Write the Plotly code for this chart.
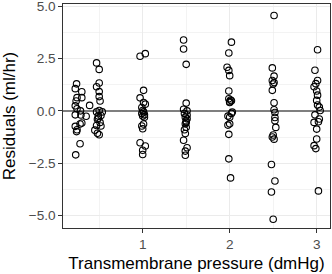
import plotly.graph_objects as go

# Transmembrane pressure (dmHg) and residuals (ml/hr), grouped by nominal pressure level
press_g1 = [0.24, 0.225, 0.30, 0.245, 0.30, 0.235, 0.39, 0.225, 0.245, 0.285,
            0.225, 0.29, 0.35, 0.225, 0.28, 0.30, 0.245, 0.24, 0.28, 0.23]
resid_g1 = [1.29, 1.06, 0.91, 0.63, 0.63, 0.47, 0.26, 0.24, 0.10, 0.0,
            -0.19, -0.20, -0.26, -0.74, -0.63, -0.58, -0.90, -0.99, -1.57, -2.10]

press_g2 = [0.47, 0.50, 0.50, 0.47, 0.50, 0.50, 0.51, 0.47, 0.535, 0.50,
            0.49, 0.52, 0.48, 0.51, 0.47, 0.52, 0.45, 0.48, 0.50, 0.49]
resid_g2 = [2.29, 1.98, 1.33, 1.15, 0.92, 0.68, 0.47, -0.05, -0.05, 0.02,
            -0.24, -0.22, -0.40, -0.55, -0.70, -0.72, -0.92, -1.07, -1.14, -0.35]

press_g3 = [0.97, 1.03, 1.01, 0.97, 1.01, 1.03, 0.99, 1.00, 1.01, 0.99,
            1.02, 1.00, 1.01, 0.99, 1.00, 0.97, 1.03, 1.00, 1.00, 1.02]
resid_g3 = [2.61, 2.73, 0.98, 0.62, 0.40, 0.32, 0.16, 0.02, -0.05, -0.12,
            -0.18, -0.25, -0.63, -0.72, -0.85, -1.52, -1.68, -1.88, -2.08, -0.30]

press_g4 = [1.47, 1.47, 1.50, 1.50, 1.47, 1.51, 1.48, 1.51, 1.49, 1.51,
            1.50, 1.49, 1.50, 1.48, 1.49, 1.47, 1.51, 1.49, 1.49, 1.50]
resid_g4 = [3.38, 2.95, 2.22, 0.37, 0.08, 0.0, -0.12, -0.20, -0.30, -0.38,
            -0.48, -0.62, -0.78, -0.90, -1.08, -1.40, -1.76, -1.92, -2.12, -0.55]

press_g5 = [2.02, 1.99, 1.97, 1.99, 2.00, 1.99, 1.99, 2.01, 2.02, 2.00,
            2.03, 2.02, 1.98, 2.00, 2.00, 1.98, 1.99, 1.99, 2.01, 2.00]
resid_g5 = [3.28, 2.76, 2.08, 1.93, 1.68, 0.95, 0.58, 0.52, 0.48, 0.44,
            -0.06, -0.12, -0.25, -0.30, -0.62, -0.68, -1.12, -2.29, -3.20, 0.40]

press_g6 = [2.51, 2.49, 2.51, 2.49, 2.51, 2.50, 2.49, 2.51, 2.51, 2.52,
            2.52, 2.52, 2.53, 2.50, 2.49, 2.51, 2.48, 2.52, 2.48, 2.50]
resid_g6 = [4.55, 2.05, 1.66, 1.45, 1.35, 1.28, 0.98, 0.39, 0.05, -0.08,
            -0.32, -0.47, -0.79, -1.15, -1.25, -1.35, -2.56, -3.35, -3.87, -5.17]

press_g7 = [3.01, 2.98, 3.01, 2.99, 2.97, 3.00, 3.01, 3.00, 3.01, 3.03,
            3.04, 2.98, 3.03, 2.97, 3.02, 3.00, 3.00, 2.97, 2.99, 3.02]
resid_g7 = [2.92, 1.94, 1.45, 1.30, 1.15, 0.95, 0.75, 0.50, 0.28, 0.18,
            0.02, -0.19, -0.39, -0.55, -0.52, -0.87, -1.34, -1.66, -1.80, -3.82]

x_ticks = [1, 2, 3]
y_ticks = [-5.0, -2.5, 0.0, 2.5, 5.0]
y_tick_labels = ["\u22125.0", "\u22122.5", "0.0", "2.5", "5.0"]

pressure = press_g1 + press_g2 + press_g3 + press_g4 + press_g5 + press_g6 + press_g7
residual = resid_g1 + resid_g2 + resid_g3 + resid_g4 + resid_g5 + resid_g6 + resid_g7

FONT = "Liberation Sans, Arial, Helvetica, sans-serif"
GRID = "#EBEBEB"

fig = go.Figure()
fig.add_trace(go.Scatter(
    x=pressure, y=residual, mode="markers",
    marker=dict(symbol="circle-open", size=6.5, color="black",
                line=dict(width=1.1, color="black")),
    showlegend=False, hoverinfo="skip", cliponaxis=False,
))

fig.update_layout(
    template="none",
    width=332, height=274,
    margin=dict(l=63, r=2, t=4, b=46, pad=0),
    paper_bgcolor="white", plot_bgcolor="white",
    font=dict(family=FONT, color="black"),
    xaxis=dict(
        automargin=False,
        range=[0.084, 3.153], tickmode="array", tickvals=x_ticks,
        ticktext=[str(v) for v in x_ticks],
        showgrid=True, gridcolor=GRID, gridwidth=1.1,
        minor=dict(tickmode="array", tickvals=[0.5, 1.5, 2.5],
                   showgrid=True, gridcolor=GRID, gridwidth=0.6, ticks=""),
        zeroline=False,
        showline=True, mirror=True, linecolor="#333333", linewidth=1.1,
        ticks="outside", ticklen=3.5, tickwidth=1, tickcolor="#333333",
        ticklabeloverflow="allow",
        tickfont=dict(size=13.6, color="#4D4D4D", family=FONT),
        title=dict(text="Transmembrane pressure (dmHg)",
                   font=dict(size=17, color="black", family=FONT), standoff=6),
    ),
    yaxis=dict(
        automargin=False,
        range=[-5.59, 5.1], tickmode="array", tickvals=y_ticks,
        ticktext=y_tick_labels,
        showgrid=True, gridcolor=GRID, gridwidth=1.1,
        minor=dict(tickmode="array", tickvals=[-3.75, -1.25, 1.25, 3.75],
                   showgrid=True, gridcolor=GRID, gridwidth=0.6, ticks=""),
        zeroline=True, zerolinecolor="#7F7F7F", zerolinewidth=1.4,
        showline=True, mirror=True, linecolor="#333333", linewidth=1.1,
        ticks="outside", ticklen=3.5, tickwidth=1, tickcolor="#333333",
        ticklabeloverflow="allow",
        tickfont=dict(size=13.6, color="#4D4D4D", family=FONT),
        title=dict(text="Residuals (ml/hr)",
                   font=dict(size=17, color="black", family=FONT), standoff=8),
    ),
)

fig.write_html(
    "out.html",
    config={"displayModeBar": False, "staticPlot": True},
    post_script="document.body.style.margin='0';document.body.style.padding='0';"
                "document.body.style.overflow='hidden';",
)
